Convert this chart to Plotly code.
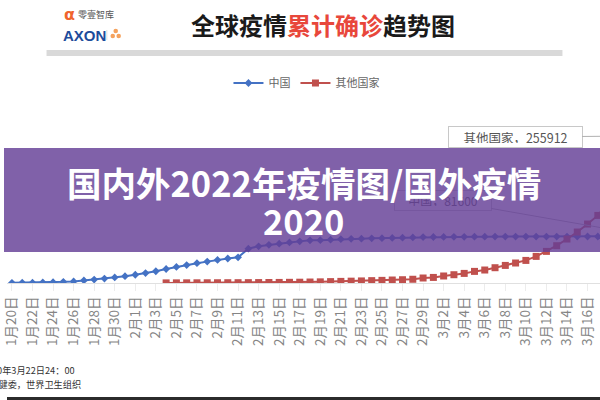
import plotly.graph_objects as go

# ---------------- data ----------------
dates = [
    "1月20日", "1月21日", "1月22日", "1月23日", "1月24日", "1月25日", "1月26日", "1月27日",
    "1月28日", "1月29日", "1月30日", "1月31日",
    "2月1日", "2月2日", "2月3日", "2月4日", "2月5日", "2月6日", "2月7日", "2月8日", "2月9日",
    "2月10日", "2月11日", "2月12日", "2月13日", "2月14日", "2月15日", "2月16日", "2月17日",
    "2月18日", "2月19日", "2月20日", "2月21日", "2月22日", "2月23日", "2月24日", "2月25日",
    "2月26日", "2月27日", "2月28日", "2月29日",
    "3月1日", "3月2日", "3月3日", "3月4日", "3月5日", "3月6日", "3月7日", "3月8日", "3月9日",
    "3月10日", "3月11日", "3月12日", "3月13日", "3月14日", "3月15日", "3月16日", "3月17日",
    "3月18日", "3月19日", "3月20日", "3月21日", "3月22日",
]

china = [
    291, 440, 571, 830, 1287, 1975, 2744, 4515, 5974, 7711, 9692, 11791,
    14380, 17205, 20438, 24324, 28018, 31161, 34546, 37198, 40171, 42638, 44653, 59804,
    63851, 66492, 68500, 70548, 72436, 74185, 74576, 75465, 76288, 76936, 77150, 77658,
    78064, 78497, 78824, 79251, 79824,
    80026, 80151, 80270, 80409, 80552, 80651, 80695, 80735, 80754, 80778, 80793, 80813,
    80824, 80844, 80860, 80881, 80894, 80928, 80967, 81008, 81054, 81600,
]

other_start = "2月4日"
other = [
    200, 250, 300, 350, 400, 450, 500, 550, 650, 750, 900, 1000, 1200, 1400, 1700, 2000,
    2400, 2800, 3200, 3600, 4100, 4600, 5200, 5700, 6500, 8700,
    9700, 12200, 14400, 16700, 20200, 22600, 26600, 30600, 34800, 39300, 46300, 55000,
    64900, 76500, 88700, 102600, 117600, 140000, 165000, 195000, 225000, 255912,
]

series_names = ["中国", "其他国家"]
tick_labels = dates[::2]

# ---------------- layout helpers ----------------
W, H = 600, 400
T, B = 111, 117            # plot area from y=111 to y=283
PLOT_H = H - T - B
PX_PER_DAY = 10.4
X0_PX = 5                  # pixel position of first category
Y_PER_PX = 1740


def py(p):
    return (H - B - p) / PLOT_H


def px(p):
    return p / W


def xdata(p):
    return (p - X0_PX) / PX_PER_DAY


def ydata(p):
    return (H - B - p) * Y_PER_PX


FONT = "Noto Sans CJK SC, Noto Sans, sans-serif"
BLUE = "#4472C4"
RED = "#C0504D"

idx = list(range(len(dates)))
start = dates.index(other_start)

fig = go.Figure()
fig.add_trace(go.Scatter(
    x=idx, y=china, name=series_names[0], mode="lines+markers",
    line=dict(color=BLUE, width=2),
    marker=dict(symbol="diamond", size=6, color=BLUE),
))
fig.add_trace(go.Scatter(
    x=idx[start:], y=other, name=series_names[1], mode="lines+markers",
    line=dict(color=RED, width=2),
    marker=dict(symbol="square", size=7, color=RED),
))

annotations = []
# data labels (drawn below the banner)
annotations.append(dict(
    x=idx[-1], y=china[-1], xref="x", yref="y",
    axref="x", ayref="y", ax=xdata(441), ay=ydata(200),
    text=f"{series_names[0]}，{china[-1]}", showarrow=True, arrowhead=0,
    arrowwidth=1, arrowcolor="#b0b0b0", standoff=0, width=88, height=11,
    bgcolor="white", bordercolor="#c8c8c8", borderwidth=1, borderpad=4,
    font=dict(family=FONT, size=12, color="#555555"),
))
annotations.append(dict(
    x=idx[-1], y=other[-1], xref="x", yref="y",
    axref="x", ayref="y", ax=xdata(514), ay=ydata(137),
    text=f"{series_names[1]}，{other[-1]}", showarrow=True, arrowhead=0,
    arrowwidth=1, arrowcolor="#b0b0b0", standoff=0, width=125, height=12,
    bgcolor="white", bordercolor="#c8c8c8", borderwidth=1, borderpad=4,
    font=dict(family=FONT, size=12.5, color="#555555"),
))
# purple banner
annotations.append(dict(
    x=0.5, y=py(200), xref="paper", yref="paper", xanchor="center", yanchor="middle",
    text=" ", showarrow=False, width=W, height=104, borderpad=0, borderwidth=0,
    bgcolor="rgba(100,62,150,0.82)",
))
annotations.append(dict(
    x=0.5, y=py(182), xref="paper", yref="paper", xanchor="center", yanchor="middle",
    text="<b>国内外2022年疫情图/国外疫情</b>", showarrow=False,
    font=dict(family=FONT, size=34.5, color="white"),
))
annotations.append(dict(
    x=0.5, y=py(220), xref="paper", yref="paper", xanchor="center", yanchor="middle",
    text="<b>2020</b>", showarrow=False,
    font=dict(family=FONT, size=34.5, color="white"),
))
# header
annotations.append(dict(
    x=px(320), y=py(24), xref="paper", yref="paper", xanchor="center", yanchor="middle",
    text="<b>全球疫情<span style='color:#E8473B'>累计确诊</span>趋势图</b>", showarrow=False,
    font=dict(family=FONT, size=24, color="#1a1a1a"),
))
annotations.append(dict(
    x=px(56), y=py(15), xref="paper", yref="paper", xanchor="left", yanchor="middle",
    text="<b>α</b>", showarrow=False, font=dict(family="DejaVu Sans", size=16, color="#F0642D"),
))
annotations.append(dict(
    x=px(70), y=py(15), xref="paper", yref="paper", xanchor="left", yanchor="middle",
    text="零壹智库", showarrow=False, font=dict(family=FONT, size=9, color="#555555"),
))
annotations.append(dict(
    x=px(55), y=py(35), xref="paper", yref="paper", xanchor="left", yanchor="middle",
    text="<b>AXON</b>", showarrow=False, font=dict(family="Liberation Sans", size=15, color="#1D4B9B"),
))
# source notes (cut at left edge)
annotations.append(dict(
    x=px(71), y=py(370), xref="paper", yref="paper", xanchor="right", yanchor="middle",
    text="数据截至2020年3月22日24：00", showarrow=False,
    font=dict(family=FONT, size=9.2, color="#333333"),
))
annotations.append(dict(
    x=px(77), y=py(384), xref="paper", yref="paper", xanchor="right", yanchor="middle",
    text="数据来源：国家卫健委，世界卫生组织", showarrow=False,
    font=dict(family=FONT, size=9.2, color="#333333"),
))

shapes = [
    # grey bar under title
    dict(type="rect", xref="paper", yref="paper", x0=px(40), x1=px(562), y0=py(56), y1=py(50),
         fillcolor="#d9d9d9", line_width=0, layer="above"),
    # logo divider
    dict(type="line", xref="paper", yref="paper", x0=px(101), x1=px(101), y0=py(40), y1=py(30),
         line=dict(color="#dddddd", width=1)),
    # dark bottom rule
    dict(type="rect", xref="paper", yref="paper", x0=0, x1=1, y0=py(400), y1=py(397),
         fillcolor="#2b2b2b", line_width=0, layer="above"),
]
# small orange logo icon (three circles)
for cx, cy in [(110, 31), (107, 36), (113, 36)]:
    shapes.append(dict(type="circle", xref="paper", yref="paper",
                       x0=px(cx - 2.3), x1=px(cx + 2.3), y0=py(cy + 2.3), y1=py(cy - 2.3),
                       fillcolor="#F5A25D", line_width=0))

fig.update_layout(
    width=W, height=H,
    margin=dict(l=0, r=0, t=T, b=B, pad=0),
    paper_bgcolor="white", plot_bgcolor="white",
    font=dict(family=FONT, color="#666666"),
    showlegend=True,
    legend=dict(orientation="h", x=px(303), xanchor="center", y=py(83), yanchor="middle",
                font=dict(family=FONT, size=11, color="#666666"), bgcolor="rgba(0,0,0,0)",
                itemwidth=30, tracegroupgap=0),
    xaxis=dict(
        range=[xdata(0), xdata(W)], tickmode="array", tickvals=idx[::2], ticktext=tick_labels,
        tickangle=-90, tickfont=dict(family=FONT, size=13.5, color="#858585"),
        ticklabeloverflow="allow",
        showgrid=False, zeroline=False, showline=True, linecolor="#e0e0e0", linewidth=1,
        ticks="outside", ticklen=7, tickcolor="#ececec",
    ),
    yaxis=dict(range=[0, PLOT_H * Y_PER_PX], visible=False, showgrid=False, zeroline=False),
    annotations=annotations,
    shapes=shapes,
)

fig.write_html("out.html", config={"displayModeBar": False},
               post_script="document.body.style.margin='0';")
